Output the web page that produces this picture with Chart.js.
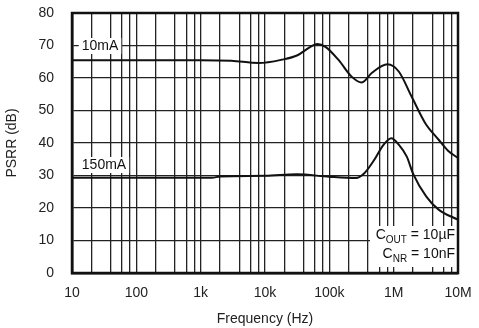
<!DOCTYPE html>
<html>
<head>
<meta charset="utf-8">
<script src="https://cdn.jsdelivr.net/npm/chart.js@4"></script>
<style>
  html, body { margin: 0; padding: 0; background: #fff; }
  #wrap { width: 479px; height: 328px; }
</style>
</head>
<body>
<div id="wrap"><canvas id="psrrChart" width="479" height="328"></canvas></div>
<script>
// frequency points (Hz) and PSRR (dB)
var freq10mA = [10, 100, 1000, 3000, 8000, 18000, 32000, 50000, 65000, 87000, 140000, 220000, 320000, 460000, 800000, 1200000, 1900000, 3100000, 5000000, 7000000, 10000000];
var psrr10mA = [65.5, 65.5, 65.5, 65.3, 64.6, 65.6, 67, 69.5, 70.5, 69.6, 65.5, 60.5, 58.6, 61.6, 64.2, 62, 54.3, 46.1, 41, 37.6, 35.4];

var freq150mA = [10, 100, 1500, 2000, 10000, 31000, 100000, 260000, 350000, 480000, 700000, 920000, 1200000, 1600000, 2000000, 3200000, 5000000, 10000000];
var psrr150mA = [29.3, 29.3, 29.3, 29.7, 29.9, 30.4, 29.6, 29.2, 30.7, 34.3, 39.5, 41.5, 39.5, 35.8, 30.6, 23.6, 19.5, 16.4];

// x grid: decades plus 2,4,6,8 minor lines
var decades = [10, 100, 1000, 10000, 100000, 1000000, 10000000];
var decadeLabels = ['10', '100', '1k', '10k', '100k', '1M', '10M'];
var minorSteps = [2, 4, 6, 8];
var yTicks = [0, 10, 20, 30, 40, 50, 60, 70, 80];

var curveLabels = [
  { text: '10mA', x: 100, y: 46 },
  { text: '150mA', x: 104, y: 165 }
];

var xTickValues = [];
decades.forEach(function (d, i) {
  xTickValues.push(d);
  if (i < decades.length - 1) {
    minorSteps.forEach(function (m) { xTickValues.push(d * m); });
  }
});

function toPoints(xs, ys) {
  return xs.map(function (x, i) { return { x: x, y: ys[i] }; });
}

var FONT = '"Liberation Sans", Arial, Helvetica, sans-serif';

// frame, white-boxed curve labels and the capacitor note
var notesPlugin = {
  id: 'notes',
  afterDraw: function (chart) {
    var c = chart.ctx;
    var area = chart.chartArea;
    c.save();
    c.font = '14px ' + FONT;
    c.textBaseline = 'middle';
    curveLabels.forEach(function (l) {
      var w = c.measureText(l.text).width;
      c.fillStyle = '#fff';
      c.fillRect(l.x - w / 2 - 3, l.y - 8, w + 6, 16);
      c.fillStyle = '#111';
      c.textAlign = 'center';
      c.fillText(l.text, l.x, l.y);
    });

    // note box bottom right
    c.fillStyle = '#fff';
    c.fillRect(370, 226, area.right - 370 - 1, 41);

    function subText(main, sub, rest, right, y) {
      c.font = '14px ' + FONT;
      var wMain = c.measureText(main).width;
      var wRest = c.measureText(rest).width;
      c.font = '10px ' + FONT;
      var wSub = c.measureText(sub).width;
      var x = right - wMain - wSub - wRest;
      c.fillStyle = '#111';
      c.textAlign = 'left';
      c.font = '14px ' + FONT;
      c.fillText(main, x, y);
      c.font = '10px ' + FONT;
      c.fillText(sub, x + wMain, y + 5);
      c.font = '14px ' + FONT;
      c.fillText(rest, x + wMain + wSub, y);
    }
    subText('C', 'OUT', ' = 10\u00b5F', area.right - 3, 235);
    subText('C', 'NR', ' = 10nF', area.right - 3, 254);

    c.strokeStyle = '#111';
    c.lineWidth = 2.5;
    c.strokeRect(area.left, area.top, area.right - area.left, area.bottom - area.top);
    c.restore();
  }
};

var ctx = document.getElementById('psrrChart').getContext('2d');

var psrrChart = new Chart(ctx, {
  type: 'line',
  data: {
    datasets: [{
      label: '10mA',
      data: toPoints(freq10mA, psrr10mA),
      borderColor: '#111',
      borderWidth: 2,
      pointRadius: 0,
      fill: false,
      cubicInterpolationMode: 'monotone'
    }, {
      label: '150mA',
      data: toPoints(freq150mA, psrr150mA),
      borderColor: '#111',
      borderWidth: 2,
      pointRadius: 0,
      fill: false,
      cubicInterpolationMode: 'monotone'
    }]
  },
  options: {
    responsive: false,
    animation: false,
    layout: { padding: { top: 13, right: 21, left: 0, bottom: 0 } },
    scales: {
      x: {
        type: 'logarithmic',
        min: 10,
        max: 10000000,
        afterBuildTicks: function (scale) {
          scale.ticks = xTickValues.map(function (v) { return { value: v }; });
        },
        afterFit: function (scale) {
          scale.height = 55;
          scale.paddingLeft = 0;
          scale.paddingRight = 0;
        },
        border: { display: true, color: '#111', width: 2.5 },
        grid: { color: '#222', lineWidth: 1.3, drawTicks: false },
        ticks: {
          autoSkip: false,
          maxRotation: 0,
          padding: 12,
          color: '#222',
          font: { family: FONT, size: 14 },
          callback: function (value) {
            var i = decades.indexOf(value);
            return i >= 0 ? decadeLabels[i] : '';
          }
        },
        title: {
          display: true,
          text: 'Frequency (Hz)',
          color: '#222',
          font: { family: FONT, size: 14 },
          padding: { top: 2, bottom: 0 }
        }
      },
      y: {
        min: 0,
        max: 80,
        afterBuildTicks: function (scale) {
          scale.ticks = yTicks.map(function (v) { return { value: v }; });
        },
        afterFit: function (scale) {
          scale.width = 72;
          scale.paddingTop = 0;
          scale.paddingBottom = 0;
        },
        border: { display: true, color: '#111', width: 2.5 },
        grid: { color: '#222', lineWidth: 1.3, drawTicks: false },
        ticks: {
          padding: 18,
          color: '#222',
          font: { family: FONT, size: 14 }
        },
        title: {
          display: true,
          text: 'PSRR (dB)',
          color: '#222',
          font: { family: FONT, size: 14 },
          padding: { top: 4, bottom: 0 }
        }
      }
    },
    plugins: {
      legend: { display: false },
      tooltip: { enabled: false },
      title: { display: false }
    }
  },
  plugins: [notesPlugin]
});
</script>
</body>
</html>
